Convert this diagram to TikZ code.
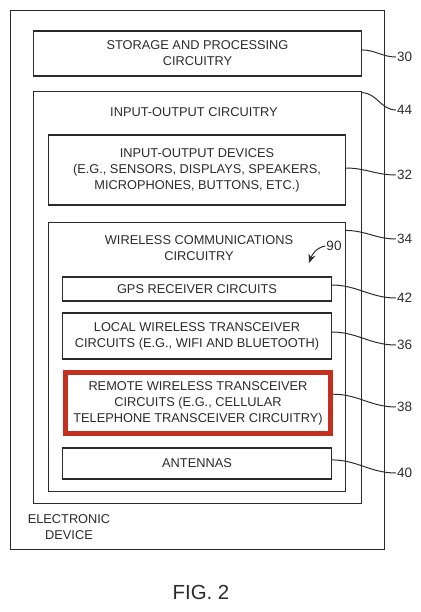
\documentclass[tikz,border=0pt]{standalone}
\usepackage{fontspec}
\setmainfont{Liberation Sans}
\usepackage{xcolor}
\usepackage{tikz}
\usetikzlibrary{arrows.meta, positioning}
\definecolor{inkgray}{HTML}{2B2B2B}
\definecolor{hlred}{HTML}{C4301F}
\tikzset{
  blockbox/.style={draw=inkgray,line width=0.75pt,inner sep=0pt,align=center,font=\fontsize{9.1}{11.4}\selectfont,text=inkgray},
  hlbox/.style={blockbox,draw=hlred,line width=3.5pt},
  boxtitle/.style={align=center,inner sep=0pt,font=\fontsize{9.1}{11.4}\selectfont,text=inkgray},
  refnum/.style={inner sep=0.6pt,font=\fontsize{9.6}{11}\selectfont,text=inkgray},
  leader/.style={draw=inkgray,line width=0.7pt},
  refarrow/.style={-{Stealth[length=2.2mm,width=1.8mm]},inkgray,line width=0.7pt},
}

\begin{document}
\begin{tikzpicture}[x=0.025cm,y=-0.025cm]
  \useasboundingbox (0,0) rectangle (421,612);
  % ---- nested blocks, from the device frame inwards ----
  \node[blockbox,minimum width=9.325cm,minimum height=13.45cm] (dev) at (197.5,280) {};
  \node[blockbox,minimum width=8.175cm,minimum height=1.125cm] (store) at (197.5,53.5)
    {STORAGE AND PROCESSING\\CIRCUITRY};
  \node[blockbox,minimum width=8.175cm,minimum height=10.275cm] (io) at (197.5,297.5) {};
  \node[boxtitle] (iotitle) at (194,112) {INPUT-OUTPUT CIRCUITRY};
  \node[blockbox,minimum width=7.4cm,minimum height=1.75cm] (iodev) at (197,170)
    {INPUT-OUTPUT DEVICES\\(E.G., SENSORS, DISPLAYS, SPEAKERS,\\MICROPHONES, BUTTONS, ETC.)};
  \node[blockbox,minimum width=7.4cm,minimum height=6.7cm] (wcc) at (197,357) {};
  \node[boxtitle] (wcctitle) at (199,248.5) {WIRELESS COMMUNICATIONS\\CIRCUITRY};
  \node[blockbox,minimum width=6.7cm,minimum height=0.6cm] (gps) at (197,289)
    {GPS RECEIVER CIRCUITS};
  \node[blockbox,minimum width=6.7cm,minimum height=1.15cm] (local) at (197,336)
    {LOCAL WIRELESS TRANSCEIVER\\CIRCUITS (E.G., WIFI AND BLUETOOTH)};
  \node[hlbox,minimum width=6.625cm,minimum height=1.525cm] (remote) at (198,403)
    {REMOTE WIRELESS TRANSCEIVER\\CIRCUITS (E.G., CELLULAR\\TELEPHONE TRANSCEIVER CIRCUITRY)};
  \node[blockbox,minimum width=6.7cm,minimum height=0.775cm] (ant) at (197,463.5)
    {ANTENNAS};
  \node[boxtitle] (devtitle) at (69,527) {ELECTRONIC\\DEVICE};

  % ---- reference numerals and their leaders ----
  \node[refnum,anchor=west] (r30) at (396,57) {30};
  \node[refnum,anchor=west] (r44) at (396,110) {44};
  \node[refnum,anchor=west] (r32) at (396,175) {32};
  \node[refnum,anchor=west] (r34) at (396,239) {34};
  \node[refnum,anchor=west] (r42) at (396,298) {42};
  \node[refnum,anchor=west] (r36) at (396,345) {36};
  \node[refnum,anchor=west] (r38) at (396,407) {38};
  \node[refnum,anchor=west] (r40) at (396,473) {40};
  \draw[leader] ([yshift=0.09cm]store.east) to[out=0,in=180] (r30.west);
  \draw[leader] ([yshift=-0.03cm]io.north east) to[out=0,in=180] (r44.west);
  \draw[leader] ([yshift=0.05cm]iodev.east) to[out=0,in=180] (r32.west);
  \draw[leader] ([yshift=-0.2cm]wcc.north east) to[out=0,in=180] (r34.west);
  \draw[leader] ([yshift=0.1cm]gps.east) to[out=0,in=180] (r42.west);
  \draw[leader] ([yshift=0.1cm]local.east) to[out=0,in=180] (r36.west);
  \draw[leader] ([yshift=0.22cm]remote.east) to[out=0,in=180] (r38.west);
  \draw[leader] ([yshift=0.09cm]ant.east) to[out=0,in=180] (r40.west);

  \node[refnum] (r90) at (334,246) {90};
  \coordinate (tip90) at (309,263);
  \draw[refarrow] (r90.west) to[out=190,in=70] (tip90);

  \node[font=\fontsize{14.5}{16}\selectfont,text=inkgray] (fig) at (201,592) {FIG. 2};
\end{tikzpicture}
\end{document}
